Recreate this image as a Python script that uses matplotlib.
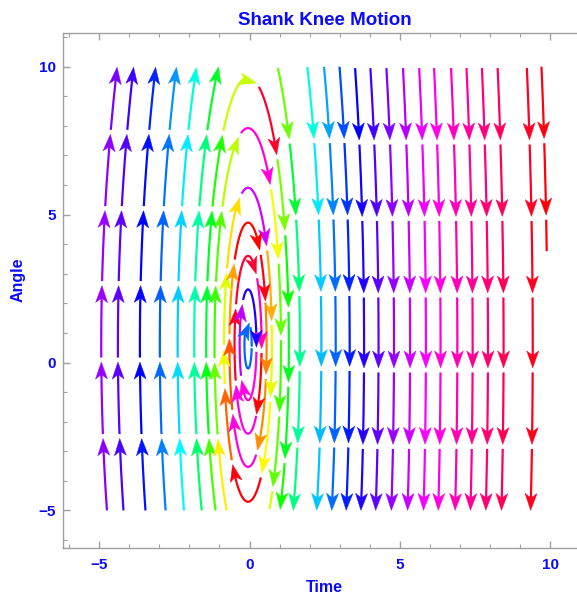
import math
import numpy as np
import matplotlib.pyplot as plt
from matplotlib.colors import hsv_to_rgb
from matplotlib.patches import Polygon
from matplotlib.ticker import MultipleLocator

# vector field: closed orbits round (x0, y0), tall because of stiffness a
x0, y0 = -0.05, 0.6
a = 45.0
b_left, b_right = 0.07, 0.01
n_low = 20.0          # speed that maps to red

# streamline seeds
up_x = [-4.74, -4.19, -3.46, -2.79, -2.18, -1.59, -1.13, -0.76]   # start at y=-5, go up
down_x = [1.45, 2.23, 2.73, 3.21, 3.70, 4.19, 4.71, 5.25, 5.78, 6.27,
          6.83, 7.34, 7.85, 8.37, 9.34]                            # end at y=-5
loop_x = [-0.85, -0.67, -0.50, -0.33, -0.17]                       # closed loops
loop_phase = [0.0, 0.42, 0.7, 0.2, 0.55]                           # where each loop starts
short_x, short_y0, short_y1 = 9.70, 10.0, 3.8                      # short line at right

xmin, xmax, ymin, ymax = -5.0, 10.0, -5.0, 10.0


def field(x, y):
    X = x - x0
    Y = y - y0
    b = 1 + (b_left if X < 0 else b_right) * X * X
    return b * Y, -a * X


W, H = 577, 596
fig = plt.figure(figsize=(W / 100, H / 100), dpi=100)
ax = fig.add_axes([63 / W, 48 / H, (586.6 - 63) / W, 515 / H])
ax.set_xlim(-6.2, 11.2)
ax.set_ylim(-6.27, 11.14)
kx = (586.6 - 63) / 17.4       # px per unit
ky = 515 / 17.41

# colour scale
gx, gy = np.meshgrid(np.linspace(xmin, xmax, 61), np.linspace(ymin, ymax, 61))
n_high = max(math.hypot(*field(u, v)) for u, v in zip(gx.ravel(), gy.ravel()))


def colour(x, y):
    n = math.hypot(*field(x, y)) + 1e-9
    h = math.log(n / n_low) / math.log(n_high / n_low)
    h = max(h, -0.4) % 1.0
    return hsv_to_rgb((h, 1.0, 1.0))


def trace(px, py, sign=1, max_len=1e9, stop=None):
    step = 1.5

    def vel(x, y):
        u, v = field(x, y)
        u, v = u * kx, v * ky
        n = math.hypot(u, v) + 1e-12
        return sign * u / n / kx, sign * v / n / ky

    x, y = px, py
    pts = [(x, y)]
    s = 0.0
    for _ in range(4000):
        k1 = vel(x, y)
        k2 = vel(x + step / 2 * k1[0], y + step / 2 * k1[1])
        k3 = vel(x + step / 2 * k2[0], y + step / 2 * k2[1])
        k4 = vel(x + step * k3[0], y + step * k3[1])
        x += step / 6 * (k1[0] + 2 * k2[0] + 2 * k3[0] + k4[0])
        y += step / 6 * (k1[1] + 2 * k2[1] + 2 * k3[1] + k4[1])
        if not (xmin - 1e-6 <= x <= xmax + 1e-6 and ymin - 1e-6 <= y <= ymax + 1e-6):
            break
        pts.append((x, y))
        s += step
        if s >= max_len or (stop is not None and stop(x, y, s)):
            break
    return np.array(pts)


seg_len, gap = 73.0, 3.0
alen, ahalf, notch = 17.0, 6.0, 4.5
lw = 1.6


def draw(pts):
    d = np.hypot(np.diff(pts[:, 0]) * kx, np.diff(pts[:, 1]) * ky)
    s = np.concatenate([[0], np.cumsum(d)])
    total = s[-1]
    start = 0.0
    while start < total - 4:
        end = min(start + seg_len, total)
        inside = (s >= start) & (s <= end)
        seg = pts[inside]
        if len(seg) < 2:
            break
        c = colour(*seg[0])
        if end - start > 2.0 * alen:
            tip = seg[-1]
            back = seg[max(0, len(seg) - 1 - int(alen / 1.5))]
            dx, dy = (tip[0] - back[0]) * kx, (tip[1] - back[1]) * ky
            dn = math.hypot(dx, dy) + 1e-12
            ux, uy = dx / dn, dy / dn
            bx, by = -alen * ux, -alen * uy
            poly = [(tip[0], tip[1]),
                    (tip[0] + (bx - ahalf * uy) / kx, tip[1] + (by + ahalf * ux) / ky),
                    (tip[0] + (bx + notch * ux) / kx, tip[1] + (by + notch * uy) / ky),
                    (tip[0] + (bx + ahalf * uy) / kx, tip[1] + (by - ahalf * ux) / ky)]
            ax.add_patch(Polygon(poly, closed=True, fc=c, ec=c, lw=0.3, zorder=3))
            line = seg[s[inside] <= end - alen + notch + 1]
        else:
            line = seg
        ax.plot(line[:, 0], line[:, 1], color=c, lw=lw, solid_capstyle='butt', zorder=2)
        start = end + gap


for x in up_x:
    draw(trace(x, ymin))

for x in down_x:
    draw(trace(x, ymin, sign=-1)[::-1])

for x, ph in zip(loop_x, loop_phase):
    def closed(px, py, s, sx=x):
        return s > 60 and math.hypot((px - sx) * kx, (py - y0) * ky) < 5
    loop = trace(x, y0, stop=closed)
    k = int(ph * len(loop))
    draw(np.concatenate([loop[k:], loop[:k]]))

draw(trace(short_x, short_y0, stop=lambda px, py, s: py < short_y1))

# frame
blue = '#0a0aff'
for side in ['left', 'bottom', 'top', 'right']:
    ax.spines[side].set_color('#a0a0a0')
    ax.spines[side].set_linewidth(1.0)
ax.set_xticks([-5, 0, 5, 10])
ax.set_yticks([-5, 0, 5, 10])
ax.xaxis.set_minor_locator(MultipleLocator(1))
ax.yaxis.set_minor_locator(MultipleLocator(1))
ax.tick_params(which='both', direction='in', top=True, right=True, color='#a0a0a0')
ax.tick_params(which='major', length=5, width=1.0)
ax.tick_params(which='minor', length=3, width=0.8)
ax.tick_params(axis='x', pad=7)
ax.tick_params(axis='y', pad=5)
for lab in ax.get_xticklabels() + ax.get_yticklabels():
    lab.set_fontfamily('Liberation Sans')
    lab.set_fontweight('bold')
    lab.set_fontsize(11)
    lab.set_color(blue)

font = dict(family='Liberation Sans', weight='bold', color=blue)
ax.set_title('Shank Knee Motion', fontsize=13.5, pad=6, **font)
ax.set_xlabel('Time', fontsize=11.5, labelpad=6, **font)
ax.set_ylabel('Angle', fontsize=11.5, **font)
ax.yaxis.set_label_coords(-0.072, 0.52)

fig.savefig('out.png', dpi=100)
